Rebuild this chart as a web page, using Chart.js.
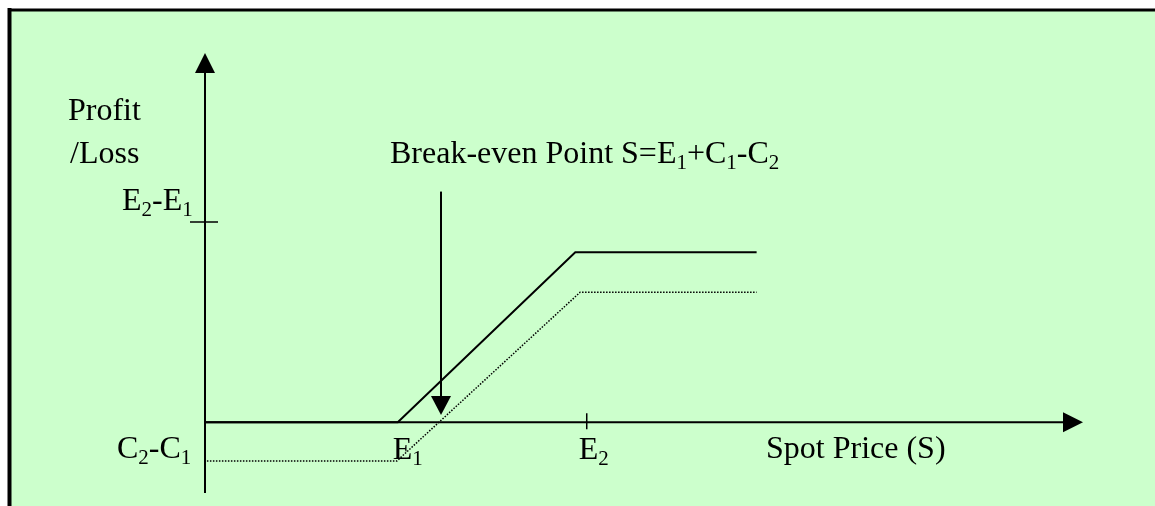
<!DOCTYPE html>
<html>
<head>
<meta charset="utf-8">
<script src="https://cdn.jsdelivr.net/npm/chart.js@4"></script>
<style>
	html, body { margin: 0; padding: 0; background: #fff; }
	#wrap { width: 1155px; height: 506px; position: relative; }
</style>
</head>
<body>
<div id="wrap"><canvas id="payoff"></canvas></div>
<script>
// spot price (x) and profit (y) of the two payoff lines
const SPOT_SOLID = [0, 20.2, 38.8, 57.8]
const PROFIT_SOLID = [0, 0, 16.8, 16.8]
const SPOT_DOTTED = [0.2, 20.1, 39.3, 57.8]
const PROFIT_DOTTED = [-3.84, -3.84, 12.84, 12.84]

// axis marks: E1, E2 on the price axis, C2-C1 and E2-E1 on the profit axis
const X_MARKS = [20.2, 40]
const X_MARK_LABELS = [[['E', 0], ['1', 1]], [['E', 0], ['2', 1]]]
const Y_MARKS = [-3.84, 19.8]
const Y_MARK_LABELS = [[['C', 0], ['2', 1], ['-C', 0], ['1', 1]], [['E', 0], ['2', 1], ['-E', 0], ['1', 1]]]

const X_TITLE = 'Spot Price (S)'
const Y_TITLE = ['Profit', '/Loss']
const BE_LABEL = [['Break-even Point S=E', 0], ['1', 1], ['+C', 0], ['1', 1], ['-C', 0], ['2', 1]]

const toPoints = (xs, ys) => xs.map((x, i) => ({ x: x, y: ys[i] }))

const FONT = '32px "Liberation Serif", "Times New Roman", serif'
const SUB_FONT = '21px "Liberation Serif", "Times New Roman", serif'

function drawRich(ctx, parts, x, y) {
	let cx = x
	parts.forEach(([txt, sub]) => {
		ctx.font = sub ? SUB_FONT : FONT
		ctx.fillText(txt, cx, sub ? y + 6 : y)
		cx += ctx.measureText(txt).width
	})
}

function arrowHead(ctx, tx, ty, dir) {
	// dir: 'up', 'down', 'right'
	ctx.beginPath()
	if (dir === 'up') {
		ctx.moveTo(tx, ty); ctx.lineTo(tx - 10, ty + 20); ctx.lineTo(tx + 10, ty + 20)
	} else if (dir === 'down') {
		ctx.moveTo(tx, ty); ctx.lineTo(tx - 10, ty - 19); ctx.lineTo(tx + 10, ty - 19)
	} else {
		ctx.moveTo(tx, ty); ctx.lineTo(tx - 20, ty - 10); ctx.lineTo(tx - 20, ty + 10)
	}
	ctx.closePath()
	ctx.fill()
}

// break-even: where the dotted line crosses zero
function breakEven() {
	for (let i = 1; i < SPOT_DOTTED.length; i++) {
		const y0 = PROFIT_DOTTED[i - 1], y1 = PROFIT_DOTTED[i]
		if (y0 < 0 && y1 >= 0) {
			const x0 = SPOT_DOTTED[i - 1], x1 = SPOT_DOTTED[i]
			return x0 + (0 - y0) / (y1 - y0) * (x1 - x0)
		}
	}
	return 0
}

const panel = {
	id: 'panel',
	beforeDraw(chart) {
		const ctx = chart.ctx
		ctx.save()
		ctx.fillStyle = '#ffffff'
		ctx.fillRect(0, 0, chart.width, chart.height)
		ctx.fillStyle = '#CCFFCC'
		ctx.fillRect(10, 10, chart.width, chart.height)
		ctx.strokeStyle = '#000'
		ctx.lineWidth = 3
		ctx.beginPath()
		ctx.moveTo(8, 10); ctx.lineTo(chart.width, 10)
		ctx.stroke()
		ctx.lineWidth = 4
		ctx.beginPath()
		ctx.moveTo(9.5, 8); ctx.lineTo(9.5, chart.height)
		ctx.stroke()
		ctx.restore()
	},
	beforeDatasetsDraw(chart) {
		const ctx = chart.ctx
		const xs = chart.scales.x, ys = chart.scales.y
		const ox = xs.getPixelForValue(0), oy = ys.getPixelForValue(0)
		const top = ys.getPixelForValue(ys.max), bottom = ys.getPixelForValue(ys.min)
		const right = xs.getPixelForValue(xs.max)
		ctx.save()
		ctx.strokeStyle = '#000'
		ctx.fillStyle = '#000'
		ctx.lineWidth = 2
		// axes
		ctx.beginPath()
		ctx.moveTo(ox, bottom); ctx.lineTo(ox, top + 18)
		ctx.moveTo(ox, oy); ctx.lineTo(right - 18, oy)
		ctx.stroke()
		arrowHead(ctx, ox, top, 'up')
		arrowHead(ctx, right, oy, 'right')
		// tick marks
		ctx.lineWidth = 1.5
		ctx.beginPath()
		const ty = ys.getPixelForValue(Y_MARKS[1])
		ctx.moveTo(ox - 15, ty); ctx.lineTo(ox + 13, ty)
		const tx = xs.getPixelForValue(X_MARKS[1])
		ctx.moveTo(tx, oy - 9); ctx.lineTo(tx, oy + 7)
		ctx.stroke()
		// labels
		ctx.textBaseline = 'alphabetic'
		ctx.textAlign = 'left'
		ctx.font = FONT
		ctx.fillText(Y_TITLE[0], ox - 137, 120)
		ctx.fillText(Y_TITLE[1], ox - 135, 163)
		ctx.fillText(X_TITLE, 766, oy + 36)
		drawRich(ctx, Y_MARK_LABELS[1], ox - 83, ty - 12)
		drawRich(ctx, Y_MARK_LABELS[0], ox - 88, oy + 36)
		drawRich(ctx, X_MARK_LABELS[0], xs.getPixelForValue(X_MARKS[0]) - 5, oy + 37)
		drawRich(ctx, X_MARK_LABELS[1], tx - 8, oy + 37)
		drawRich(ctx, BE_LABEL, 390, 163)
		// break-even arrow
		const bx = xs.getPixelForValue(breakEven()) + 2
		const tip = ys.getPixelForValue(0.7)
		ctx.lineWidth = 2
		ctx.beginPath()
		ctx.moveTo(bx, ys.getPixelForValue(22.8)); ctx.lineTo(bx, tip - 17)
		ctx.stroke()
		arrowHead(ctx, bx, tip, 'down')
		ctx.restore()
	}
}

const data_payoff = {
	datasets: [
		{
			label: 'spread',
			data: toPoints(SPOT_SOLID, PROFIT_SOLID),
			showLine: true,
			borderColor: '#000',
			borderWidth: 2,
			pointRadius: 0,
			clip: false,
		},
		{
			label: 'net of premium',
			data: toPoints(SPOT_DOTTED, PROFIT_DOTTED),
			showLine: true,
			borderColor: '#000',
			borderWidth: 1.5,
			borderDash: [1.5, 1.5],
			pointRadius: 0,
			clip: false,
		},
	]
}

const config_payoff = {
	type: 'scatter',
	data: data_payoff,
	options: {
		responsive: true,
		maintainAspectRatio: false,
		animation: false,
		layout: { padding: { left: 205, right: 72, top: 53, bottom: 13 } },
		plugins: {
			legend: { display: false },
			tooltip: { enabled: false },
		},
		scales: {
			x: { type: 'linear', min: 0, max: 92, display: false },
			y: { type: 'linear', min: -7, max: 36.5, display: false },
		}
	},
	plugins: [panel]
}

const payoff = new Chart(document.getElementById('payoff'), config_payoff)
</script>
</body>
</html>
